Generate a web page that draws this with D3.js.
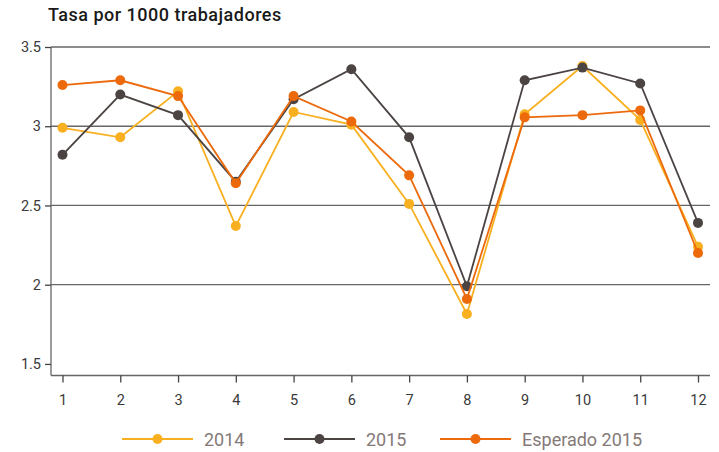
<!DOCTYPE html>
<html><head><meta charset="utf-8">
<script src="https://cdn.jsdelivr.net/npm/d3@7"></script>
<style>body{margin:0;background:#fff}svg{display:block}text{font-family:Roboto,"DejaVu Sans",sans-serif}</style>
</head><body>
<script>
const months = [1,2,3,4,5,6,7,8,9,10,11,12];
const s2014 = [2.99,2.93,3.22,2.37,3.09,3.01,2.51,1.815,3.075,3.38,3.04,2.24];
const s2015 = [2.82,3.20,3.07,2.65,3.17,3.36,2.93,1.99,3.29,3.37,3.27,2.39];
const esperado = [3.26,3.29,3.19,2.64,3.19,3.03,2.69,1.91,3.056,3.07,3.10,2.20];
const yTicks = [1.5,2,2.5,3,3.5];
const seriesNames = ["2014","2015","Esperado 2015"];
const colors = ["#f9b020","#4b4443","#ec6a0c"];

const W=719,H=452;
const svg=d3.select("body").append("svg").attr("width",W).attr("height",H);
const x=d3.scalePoint().domain(months).range([62.5,698]);
const y=d3.scaleLinear().domain([1.427,3.5]).range([375.5,47]);

svg.append("text").attr("x",48).attr("y",21).attr("font-size",18).attr("font-weight",500).attr("letter-spacing",0.5).attr("fill","#1a1a1a").text("Tasa por 1000 trabajadores");

// grid
svg.append("g").selectAll("line").data(yTicks.filter(d=>d>1.5)).join("line")
 .attr("x1",51).attr("x2",710).attr("y1",d=>y(d)).attr("y2",d=>y(d)).attr("stroke","#666").attr("stroke-width",1.3);

const ya=svg.append("g").attr("transform","translate(51,0)").call(d3.axisLeft(y).tickValues(yTicks).tickSize(6).tickFormat(d3.format("")));
ya.select(".domain").attr("d","M0,"+47+"V"+375.5).attr("stroke","#666").attr("stroke-width",1.3);
ya.selectAll(".tick line").attr("stroke","#444").attr("stroke-width",1.3);
ya.selectAll(".tick text").attr("font-size",14.5).attr("fill","#3a3a3a").attr("x",-10).attr("font-family","Roboto");

const xa=svg.append("g").attr("transform","translate(0,375.5)").call(d3.axisBottom(x).tickSize(7).tickSizeOuter(0));
xa.select(".domain").attr("d","M51,0H710").attr("stroke","#666").attr("stroke-width",1.3);
xa.selectAll(".tick line").attr("stroke","#444").attr("stroke-width",1.3);
xa.selectAll(".tick text").attr("font-size",14.5).attr("fill","#3a3a3a").attr("dy","1.35em").attr("font-family","Roboto");

const data=[s2014,s2015,esperado];
const line=d3.line().x((d,i)=>x(months[i])).y(d=>y(d));
data.forEach((s,k)=>{
  const g=svg.append("g");
  g.append("path").attr("d",line(s)).attr("fill","none").attr("stroke",colors[k]).attr("stroke-width",1.8);
  g.selectAll("circle").data(s).join("circle").attr("cx",(d,i)=>x(months[i])).attr("cy",d=>y(d)).attr("r",5).attr("fill",colors[k]);
});

// legend
const lx=[122,284,440];
const lg=svg.append("g");
seriesNames.forEach((n,k)=>{
  lg.append("line").attr("x1",lx[k]).attr("x2",lx[k]+71).attr("y1",439).attr("y2",439).attr("stroke",colors[k]).attr("stroke-width",2);
  lg.append("circle").attr("cx",lx[k]+35.5).attr("cy",439).attr("r",5).attr("fill",colors[k]);
  lg.append("text").attr("x",lx[k]+82).attr("y",445.5).attr("font-size",18).attr("fill","#857977").text(n);
});
</script>
</body></html>
